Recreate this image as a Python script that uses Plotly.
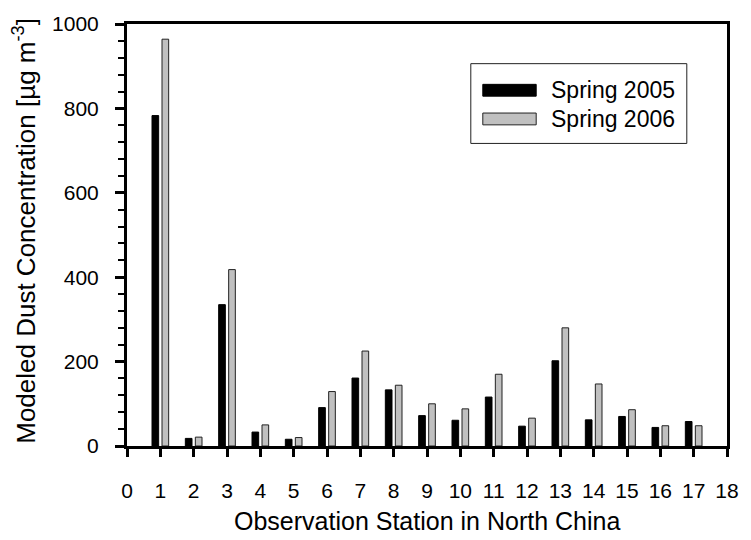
import plotly.graph_objects as go

stations = list(range(1, 18))
spring_2005 = [783, 18, 335, 33, 16, 91, 161, 133, 72, 61, 116, 47, 202, 62, 70, 44, 58]
spring_2006 = [964, 21, 418, 50, 20, 129, 225, 144, 100, 88, 170, 66, 280, 147, 86, 48, 48]
series_names = ["Spring 2005", "Spring 2006"]
x_ticks = list(range(0, 19))
y_ticks = [0, 200, 400, 600, 800, 1000]
x_title = "Observation Station in North China"
y_title = "Modeled Dust Concentration [µg m<sup>-3</sup>]"

FONT = "Liberation Sans, Arial, sans-serif"

fig = go.Figure()
fig.add_trace(go.Bar(
    x=stations, y=spring_2005, name=series_names[0],
    width=0.2, offset=-0.25,
    marker=dict(color="#000000", line=dict(color="#000000", width=1)),
    showlegend=False,
))
fig.add_trace(go.Bar(
    x=stations, y=spring_2006, name=series_names[1],
    width=0.2, offset=0.05,
    marker=dict(color="#c0c0c0", line=dict(color="#222222", width=1)),
    showlegend=False,
))

# custom legend (box + swatches + real text)
fig.add_shape(type="rect", xref="paper", yref="paper",
              x0=0.573, x1=0.933, y0=0.717, y1=0.906,
              line=dict(color="#222222", width=1), fillcolor="white", layer="below")
fig.add_shape(type="rect", xref="paper", yref="paper",
              x0=0.593, x1=0.682, y0=0.829, y1=0.857,
              line=dict(color="#000000", width=1), fillcolor="#000000")
fig.add_shape(type="rect", xref="paper", yref="paper",
              x0=0.593, x1=0.682, y0=0.761, y1=0.789,
              line=dict(color="#222222", width=1), fillcolor="#c0c0c0")
fig.add_annotation(xref="paper", yref="paper", x=0.703, y=0.843, text=series_names[0],
                   showarrow=False, xanchor="left", yanchor="middle",
                   font=dict(family=FONT, size=23, color="black"))
fig.add_annotation(xref="paper", yref="paper", x=0.703, y=0.775, text=series_names[1],
                   showarrow=False, xanchor="left", yanchor="middle",
                   font=dict(family=FONT, size=23, color="black"))

# axis titles
fig.add_annotation(xref="paper", yref="paper", x=0.5, y=-0.178, text=x_title,
                   showarrow=False, xanchor="center", yanchor="middle",
                   font=dict(family=FONT, size=25, color="black"))
fig.add_annotation(xref="paper", yref="paper", x=-0.17, y=0.51, text=y_title,
                   showarrow=False, xanchor="center", yanchor="middle", textangle=-90,
                   font=dict(family=FONT, size=26, color="black"))

fig.update_layout(
    width=751, height=540,
    margin=dict(l=127, r=18, t=18, b=94),
    paper_bgcolor="white", plot_bgcolor="white",
    barmode="overlay",
    font=dict(family=FONT, size=21, color="black"),
    showlegend=False,
)
fig.update_xaxes(
    range=[0, 18], tickmode="array", tickvals=x_ticks, ticktext=[str(v) for v in x_ticks],
    ticks="outside", ticklen=8, tickwidth=2.5, tickcolor="black",
    showline=True, linewidth=3, linecolor="black", mirror=True,
    showgrid=False, zeroline=False,
    tickfont=dict(family=FONT, size=21), ticklabelstandoff=16,
)
fig.update_yaxes(
    range=[0, 1000], tickmode="array", tickvals=y_ticks,
    ticks="outside", ticklen=9, tickwidth=2.5, tickcolor="black",
    minor=dict(dtick=40, ticks="outside", ticklen=6, tickwidth=2, tickcolor="black", showgrid=False),
    showline=True, linewidth=3, linecolor="black", mirror=True,
    showgrid=False, zeroline=False,
    tickfont=dict(family=FONT, size=21), ticklabelstandoff=12,
)

fig.write_html("out.html")
